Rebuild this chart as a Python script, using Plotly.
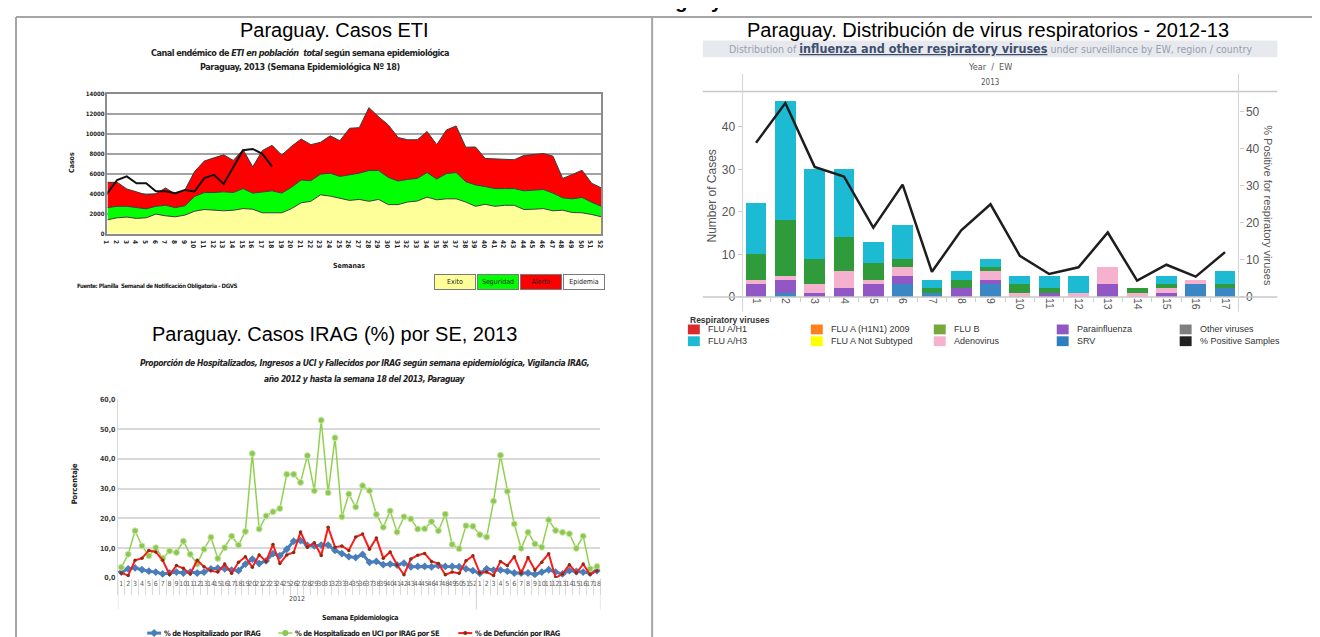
import plotly.graph_objects as go

W, H = 1320, 637


def fx(x):
    # pixel x -> paper fraction
    return x / W


def fy(y):
    # pixel y (from top) -> paper fraction
    return 1 - y / H


ARIAL = "Liberation Sans, Arial, sans-serif"
NARROW = "Liberation Sans Narrow, Arial Narrow, DejaVu Sans Condensed, sans-serif"

#%% ETI endemic channel, Paraguay 2013
eti_weeks = list(range(1, 53))
eti_exito = [1400, 1600, 1670, 1540, 1600, 1970, 1800, 1700, 1870, 2260,
             2430, 2360, 2300, 2360, 2520, 2460, 2100, 2100, 2100, 2520,
             3100, 3250, 3900, 3770, 3570, 3340, 3440, 3250, 3440, 2920,
             2920, 3180, 3280, 3670, 3400, 3500, 3500, 3180, 2750, 2950,
             2750, 2850, 2850, 2430, 2460, 2520, 2300, 2360, 2130, 2100,
             1930, 1700]
eti_seguridad = [2620, 2750, 2750, 2600, 2500, 2750, 2850, 2620, 2800, 3740,
                 4130, 4130, 4200, 4130, 4520, 4070, 4160, 4300, 4070, 4650,
                 5380, 5310, 5970, 6070, 5740, 5900, 6070, 6330, 6330, 5640,
                 5280, 5440, 5540, 6130, 5480, 6030, 6130, 5210, 4890, 4720,
                 4520, 4520, 4520, 4300, 4390, 4430, 4070, 3600, 3500, 3640,
                 3150, 2750]
eti_alerta = [5150, 5150, 4490, 4230, 3900, 4000, 4590, 3970, 4390, 6230,
              7280, 7600, 7900, 7340, 8430, 6700, 8330, 8850, 7870, 8750,
              9480, 8920, 9150, 9800, 9310, 10560, 10620, 12620, 11700, 10890,
              9640, 9410, 9410, 10230, 8920, 10390, 10790, 8660, 8690, 7540,
              7510, 7410, 7410, 7840, 7940, 8030, 7770, 5540, 5930, 6360,
              5050, 4590]
eti_weeks_2013 = list(range(1, 19))
eti_casos_2013 = [4070, 5380, 5740, 5050, 5050, 4260, 4260, 4070, 4390, 4230,
                  5570, 5900, 4980, 6620, 8360, 8490, 8000, 6720]
eti_legend = ["Exito", "Seguridad", "Alerta", "Epidemia"]

#%% respiratory viruses by EW 2013
vr_weeks = list(range(1, 18))
vr_srv = [0, 1, 0, 0, 0, 3, 1, 0, 3, 0, 0, 0, 0, 0, 0, 3, 2]
vr_parainfluenza = [3, 3, 1, 2, 3, 2, 0, 2, 1, 0, 1, 0, 3, 0, 1, 0, 0]
vr_adenovirus = [1, 1, 2, 4, 1, 2, 0, 0, 2, 1, 0, 1, 4, 1, 1, 1, 0]
vr_flu_b = [6, 13, 6, 8, 4, 2, 1, 2, 1, 2, 1, 0, 0, 1, 1, 0, 1]
vr_flu_h3 = [12, 28, 21, 16, 5, 8, 2, 2, 2, 2, 3, 4, 0, 0, 2, 0, 3]
vr_pct_positive = [41.6, 52.3, 35.1, 32.5, 18.7, 30.3, 6.8, 18.0, 25.0, 11.1,
                   6.2, 8.0, 17.4, 4.4, 8.7, 5.5, 12.1]
vr_legend = ["FLU A/H1", "FLU A/H3", "FLU A (H1N1) 2009", "FLU A Not Subtyped",
             "FLU B", "Adenovirus", "Parainfluenza", "SRV", "Other viruses",
             "% Positive Samples"]

#%% IRAG proportions, 2012 + 2013 (to EW 18)
irag_years = ["2012"] * 52 + ["2013"] * 18
irag_weeks = [str(w) for w in range(1, 53)] + [str(w) for w in range(1, 19)]
irag_hosp = [1.9, 3.0, 3.3, 2.7, 2.2, 1.9, 1.3, 1.6, 1.9, 1.6,
             1.9, 1.6, 1.9, 3.0, 3.2, 3.0, 2.6, 2.4, 4.6, 6.3,
             4.8, 5.7, 8.1, 7.4, 9.6, 12.3, 12.5, 10.9, 10.7, 11.0,
             11.0, 9.2, 8.1, 7.1, 6.8, 7.9, 5.2, 5.5, 4.4, 4.6,
             4.3, 4.9, 3.7, 3.8, 3.8, 3.7, 4.1, 3.8, 3.8, 3.7,
             3.0, 2.4,
             1.5, 3.0, 2.6, 2.6, 2.2, 1.6, 1.6, 1.6, 1.1, 1.9,
             2.7, 1.9, 1.3, 2.4, 2.1, 1.9, 1.6, 2.4]
irag_uci = [3.5, 7.9, 15.8, 10.7, 7.4, 10.1, 6.6, 9.0, 8.5, 12.3,
            7.9, 4.6, 9.6, 13.6, 6.5, 10.1, 14.0, 11.0, 15.6, 41.8,
            16.4, 20.8, 22.2, 23.3, 34.8, 34.8, 32.1, 41.1, 29.3, 53.0,
            28.6, 47.1, 20.5, 28.2, 23.8, 31.0, 29.3, 21.3, 17.0, 22.5,
            15.4, 20.5, 19.8, 16.4, 16.5, 18.9, 15.8, 21.4, 11.2, 9.8,
            17.5, 17.3,
            14.5, 13.7, 25.8, 41.2, 29.1, 18.1, 9.9, 15.3, 11.4, 10.3,
            19.5, 15.9, 15.3, 14.8, 9.9, 14.0, 3.0, 3.8]
irag_defuncion = [1.6, 0.8, 5.9, 6.6, 9.2, 8.7, 5.9, 1.1, 4.1, 3.2,
                  1.3, 5.9, 3.7, 2.4, 1.9, 4.6, 1.5, 5.2, 7.1, 3.5,
                  7.7, 5.5, 11.2, 4.8, 7.7, 8.5, 15.4, 10.3, 11.8, 7.5,
                  17.0, 10.3, 10.7, 9.2, 13.7, 14.7, 9.6, 13.4, 6.6, 8.7,
                  4.3, 1.0, 6.3, 7.6, 8.2, 5.5, 4.8, 1.0, 1.9, 1.5,
                  5.7, 7.4,
                  1.6, 1.9, 0.8, 5.5, 4.1, 7.1, 1.5, 6.8, 2.6, 5.2,
                  8.1, 0.0, 1.3, 4.4, 1.6, 4.6, 1.1, 2.4]
irag_names = ["% de Hospitalizado por IRAG",
              "% de Hospitalizado en UCI por IRAG por SE",
              "% de Defunción por IRAG"]

#%% colours
yellow = "#ffff99"
green = "#00ff00"
red = "#ff0000"
c_srv = "#3b86c4"
c_para = "#9157c4"
c_adeno = "#f5b1cd"
c_flub = "#2f9b3b"
c_h3 = "#1cbad3"
swatch_colors = ["#d92b2b", c_h3, "#ff7f1a", "#ffff00", "#76a83c", c_adeno,
                 c_para, "#2f7fbf", "#7f7f7f", "#222222"]
irag_colors = ["#4a7ebb", "#92d050", "#ff1a1a"]

fig = go.Figure()
ann = []
shp = []


def tight(s, ls):
    # squeeze letters a bit, the source uses a narrow typeface
    return "<span style='letter-spacing:%spx'>%s</span>" % (ls, s)


def text(x, y, s, size, color="#000", family=ARIAL, xanchor="center",
         angle=0, weight="normal", yanchor="middle"):
    ann.append(dict(x=fx(x), y=fy(y), xref="paper", yref="paper", text=s,
                    showarrow=False, xanchor=xanchor, yanchor=yanchor,
                    textangle=angle,
                    font=dict(family=family, size=size, color=color,
                              weight=weight)))


def line(x0, y0, x1, y1, color="#a6a6a6", width=2):
    shp.append(dict(type="line", xref="paper", yref="paper",
                    x0=fx(x0), y0=fy(y0), x1=fx(x1), y1=fy(y1),
                    line=dict(color=color, width=width)))


#%% page frame
line(3, 5, 1318, 5)
line(3, 5, 3, 637)
line(643, 5, 643, 637)
line(1318, 5, 1318, 637)
text(669, -11, "Paraguay", 20, weight="bold")

#%% panel 1: ETI
edge = dict(color="#3c3c3c", width=1)
fig.add_trace(go.Scatter(x=eti_weeks, y=eti_exito, mode="lines", fill="tozeroy",
                         fillcolor=yellow, line=edge, xaxis="x", yaxis="y"))
fig.add_trace(go.Scatter(x=eti_weeks, y=eti_seguridad, mode="lines", fill="tonexty",
                         fillcolor=green, line=edge, xaxis="x", yaxis="y"))
fig.add_trace(go.Scatter(x=eti_weeks, y=eti_alerta, mode="lines", fill="tonexty",
                         fillcolor=red, line=edge, xaxis="x", yaxis="y"))
fig.add_trace(go.Scatter(x=eti_weeks_2013, y=eti_casos_2013, mode="lines",
                         line=dict(color="#111", width=2), xaxis="x", yaxis="y"))

text(323, 18, "Paraguay. Casos ETI", 20)
text(289, 42, tight("Canal endémico de <i>ETI en población  total</i> según semana "
                    "epidemiológica", -0.5), 9, "#222", NARROW, weight="bold")
text(289, 56, tight("Paraguay, 2013 (Semana Epidemiológica Nº 18)", -0.4), 9,
     "#222", NARROW, weight="bold")
text(338, 258, "Semanas", 7, "#222", NARROW, weight="bold")
text(60, 153, "Casos", 7, "#222", NARROW, weight="bold", angle=-90)
text(62, 279, tight("Fuente: Planilla  Semanal de Notificación Obligatoria - DGVS", -0.4),
     6, "#222", NARROW, xanchor="left", weight="bold")
for i, (lab, col) in enumerate(zip(eti_legend, [yellow, green, red, "#ffffff"])):
    ann.append(dict(x=fx(445 + 43 * i), y=fy(274.5), xref="paper", yref="paper",
                    text=lab, showarrow=False, width=38, height=12, borderpad=1,
                    bgcolor=col, bordercolor="#7a7a7a", borderwidth=1,
                    font=dict(family=NARROW, size=7, color="#222")))

#%% panel 2: respiratory viruses
for vals, col in [(vr_srv, c_srv), (vr_parainfluenza, c_para),
                  (vr_adenovirus, c_adeno), (vr_flu_b, c_flub), (vr_flu_h3, c_h3)]:
    fig.add_trace(go.Bar(x=vr_weeks, y=vals, width=0.71, marker_color=col,
                         marker_line_width=0, xaxis="x2", yaxis="y2"))
fig.add_trace(go.Scatter(x=vr_weeks, y=vr_pct_positive, mode="lines",
                         line=dict(color="#1e1e1e", width=2.5),
                         xaxis="x2", yaxis="y3"))

text(980.5, 18, "Paraguay. Distribución de virus respiratorios - 2012-13", 20)
shp.append(dict(type="rect", xref="paper", yref="paper", x0=fx(694), x1=fx(1272),
                y0=fy(46), y1=fy(29), fillcolor="#e7e9ee", line_width=0, layer="below"))
text(983, 37.5,
     "<span style='color:#98a0ad;font-size:10.5px'>Distribution of </span>"
     "<b><u>influenza and other respiratory viruses</u></b>"
     "<span style='color:#98a0ad;font-size:10.5px'> under surveillance by EW, region / country</span>",
     12.5, "#3e4f6e", NARROW)
text(983, 56, "Year  /  EW", 9, "#555", NARROW)
text(983, 72, "2013", 8, "#555", NARROW)
line(694, 81, 1272, 81, "#c8c8c8", 1.5)
line(694, 290, 1272, 290, "#c8c8c8", 1.5)
line(734, 63, 734, 305, "#d4d4d4", 1)
line(1233, 63, 1233, 305, "#d4d4d4", 1)
text(703, 187, "Number of Cases", 12, "#555", angle=-90)
text(1263, 197, "% Positive for respiratory viruses", 11, "#555", angle=90)
text(679, 313, "Respiratory viruses", 8.5, "#333", xanchor="left", weight="bold")
for i, (lab, col) in enumerate(zip(vr_legend, swatch_colors)):
    col_i, row_i = i // 2, i % 2
    x0 = 679 + 123.7 * col_i
    yc = 323 + 12 * row_i
    shp.append(dict(type="rect", xref="paper", yref="paper", x0=fx(x0), x1=fx(x0 + 12),
                    y0=fy(yc + 5), y1=fy(yc - 5), fillcolor=col, line_width=0))
    text(x0 + 18, yc, lab, 9, "#333", xanchor="left")

#%% panel 3: IRAG
irag_idx = list(range(len(irag_weeks)))
fig.add_trace(go.Scatter(x=irag_idx, y=irag_hosp, mode="lines+markers",
                         line=dict(color=irag_colors[0], width=3),
                         marker=dict(symbol="diamond", size=6, color=irag_colors[0]),
                         xaxis="x3", yaxis="y4"))
fig.add_trace(go.Scatter(x=irag_idx, y=irag_uci, mode="lines+markers",
                         line=dict(color=irag_colors[1], width=1.5),
                         marker=dict(size=6, color="#8cc850",
                                     line=dict(color="#c9e6a8", width=1)),
                         xaxis="x3", yaxis="y4"))
fig.add_trace(go.Scatter(x=irag_idx, y=irag_defuncion, mode="lines+markers",
                         line=dict(color=irag_colors[2], width=2),
                         marker=dict(size=3.5, color="#8b2d0f"),
                         xaxis="x3", yaxis="y4"))

text(323, 328, "Paraguay. Casos IRAG (%) por SE, 2013", 20)
text(354, 357, tight("<i>Proporción de Hospitalizados, Ingresos a UCI y Fallecidos por IRAG "
                     "según semana epidemiológica, Vigilancia IRAG,</i>", -0.4),
     8.5, "#222", NARROW, weight="bold")
text(354, 373, tight("<i>año 2012 y hasta la semana 18 del 2013, Paraguay</i>", -0.4),
     8.5, "#222", NARROW, weight="bold")
text(62, 480, "Porcentaje", 7.5, "#222", NARROW, weight="bold", angle=-90)
text(349, 617, tight("Semana Epidemiologica", -0.4), 7, "#222", NARROW, weight="bold")
n2012 = irag_years.count("2012")
ann.append(dict(x=(n2012 - 1) / 2, y=fy(603), xref="x3", yref="paper", text="2012",
                showarrow=False, font=dict(family=NARROW, size=7, color="#444")))
for xb in [-0.5, n2012 - 0.5, len(irag_weeks) - 0.5]:
    shp.append(dict(type="line", xref="x3", yref="paper", x0=xb, x1=xb,
                    y0=fy(575.7), y1=fy(608), line=dict(color="#d0d0d0", width=1)))
for i, (lab, col, x0) in enumerate(zip(irag_names, irag_colors, [135, 267, 448])):
    line(x0, 632, x0 + 14, 632, col, [3, 1.5, 2][i])
    mk = dict(xref="paper", yref="paper", xsizemode="pixel", ysizemode="pixel",
              xanchor=fx(x0 + 7), yanchor=fy(632), line_width=0)
    if i == 0:
        mk.update(type="path", path="M 0 4 L 4 0 L 0 -4 L -4 0 Z", fillcolor=col)
    elif i == 1:
        mk.update(type="circle", x0=-3, x1=3, y0=-3, y1=3, fillcolor="#8cc850")
    else:
        mk.update(type="circle", x0=-2, x1=2, y0=-2, y1=2, fillcolor="#8b2d0f")
    shp.append(mk)
    text(x0 + 15, 632, tight(lab, -0.45), 7.5, "#222", NARROW, xanchor="left",
         weight="bold")

#%% axes
small_bold = dict(family=NARROW, size=6.5, color="#222", weight="bold")
fig.update_layout(
    width=W, height=H, margin=dict(l=0, r=0, t=0, b=0),
    paper_bgcolor="white", plot_bgcolor="white", showlegend=False,
    barmode="stack", separators=",.", font=dict(family=ARIAL),
    annotations=ann, shapes=shp,
    xaxis=dict(domain=[fx(95), fx(592)], anchor="y", range=[1, 52],
               tickmode="linear", tick0=1, dtick=1, showgrid=False, zeroline=False,
               showline=True, mirror=True, linecolor="#8c8c8c", linewidth=1.5,
               tickfont=small_bold, ticks=""),
    yaxis=dict(domain=[fy(225.7), fy(83.3)], anchor="x", range=[0, 14000],
               dtick=2000, tickformat="d", gridcolor="#a3a3a3", gridwidth=1.5,
               zeroline=False, showline=True, mirror=True, linecolor="#8c8c8c",
               linewidth=1.5, tickfont=dict(small_bold, size=6)),
    xaxis2=dict(domain=[fx(734), fx(1233)], anchor="y2", range=[0.54, 17.46],
                tickmode="array", tickvals=vr_weeks, tickangle=90, showgrid=False,
                zeroline=False, showline=False, ticks="",
                tickfont=dict(family=ARIAL, size=10.5, color="#555"),
                minor=dict(tickmode="linear", tick0=0.5, dtick=1, ticks="outside",
                           ticklen=4, tickcolor="#cccccc")),
    yaxis2=dict(domain=[fy(290), fy(81)], anchor="x2", range=[0, 48.3],
                tickvals=[0, 10, 20, 30, 40], showgrid=False, zeroline=False,
                ticks="outside", ticklen=4, tickcolor="#cccccc",
                tickfont=dict(family=ARIAL, size=12, color="#555")),
    yaxis3=dict(overlaying="y2", anchor="x2", side="right", range=[0, 55.4],
                tickvals=[0, 10, 20, 30, 40, 50], showgrid=False, zeroline=False,
                ticks="outside", ticklen=4, tickcolor="#cccccc",
                tickfont=dict(family=ARIAL, size=12, color="#555")),
    xaxis3=dict(domain=[fx(105.5), fx(591)], anchor="y4",
                range=[-0.5, len(irag_weeks) - 0.5],
                tickmode="array", tickvals=irag_idx, ticktext=irag_weeks, tickangle=0,
                showgrid=False, zeroline=False, showline=False, ticks="",
                tickfont=dict(family=NARROW, size=7, color="#595959"),
                minor=dict(tickmode="linear", tick0=0.5, dtick=1, ticks="outside",
                           ticklen=16, tickcolor="#dadada")),
    yaxis4=dict(domain=[fy(575.7), fy(394.3)], anchor="x3", range=[0, 60],
                dtick=10, tickformat=".1f", gridcolor="#d9d9d9", gridwidth=1.5,
                zeroline=False, showline=True, linecolor="#d9d9d9",
                tickfont=dict(family=NARROW, size=7, color="#404040", weight="bold")),
)

fig.write_html("out.html")
